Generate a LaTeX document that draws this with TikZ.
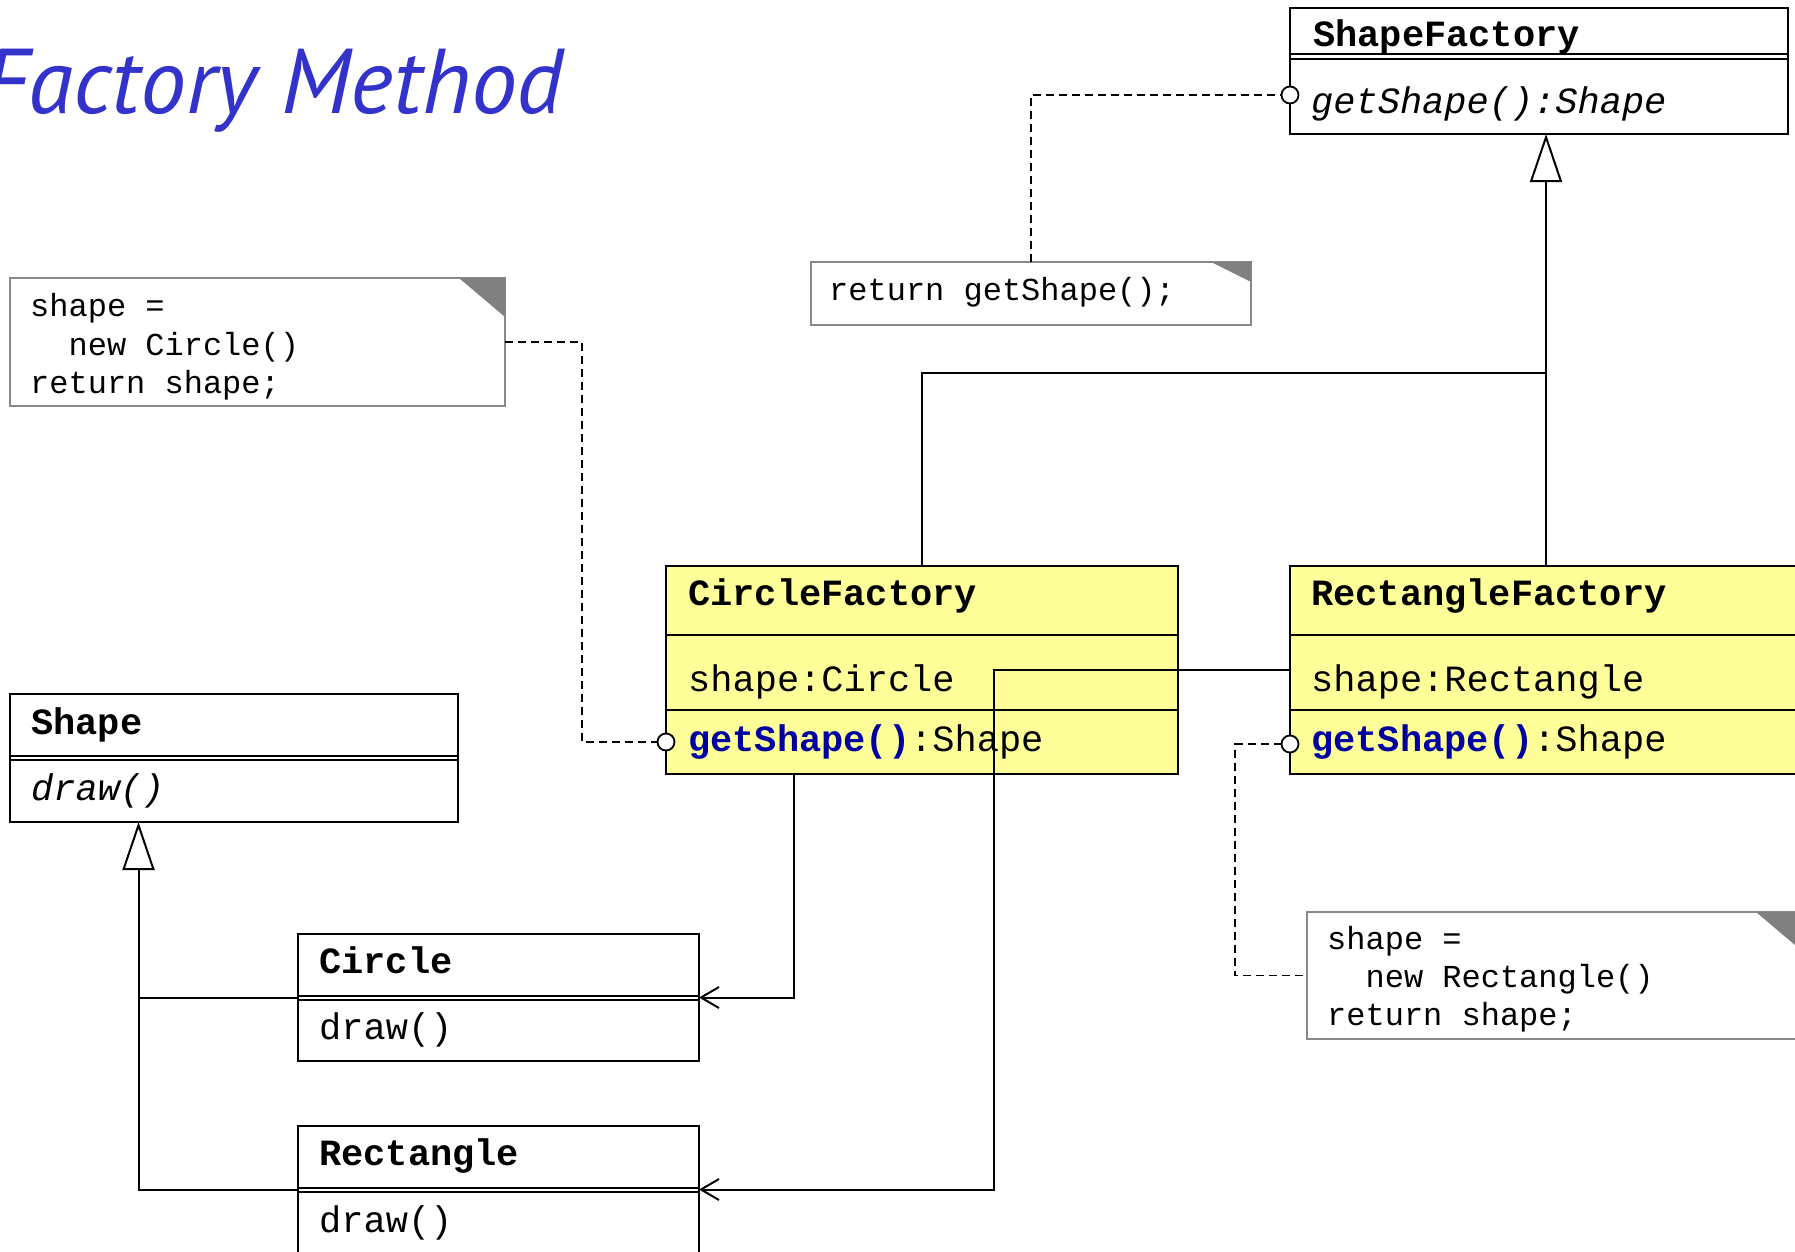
\documentclass[tikz,border=0pt]{standalone}
\usepackage{fontspec}
\setmonofont{Liberation Mono}
\newfontfamily\titlefont{PT Sans}
\usetikzlibrary{arrows.meta}
\definecolor{titleblue}{HTML}{3333CC}
\definecolor{methblue}{HTML}{0000A0}
\definecolor{classyellow}{HTML}{FFFF99}
\definecolor{notegrey}{HTML}{888888}
\definecolor{cornergrey}{HTML}{808080}
\begin{document}
\begin{tikzpicture}[x=1pt,y=-1pt,
  umlbox/.style={draw=black, line width=2pt, anchor=north west, inner sep=0pt, outer sep=0pt, fill=white},
  factbox/.style={umlbox, fill=classyellow},
  notebox/.style={draw=notegrey, line width=2pt, anchor=north west, inner sep=0pt, outer sep=0pt, fill=white},
  cname/.style={anchor=base west, inner sep=0pt, font=\ttfamily\bfseries\fontsize{37}{44}\selectfont},
  ctext/.style={anchor=base west, inner sep=0pt, font=\ttfamily\fontsize{37}{44}\selectfont},
  citext/.style={anchor=base west, inner sep=0pt, font=\ttfamily\itshape\fontsize{37}{44}\selectfont},
  ntext/.style={anchor=base west, inner sep=0pt, font=\ttfamily\fontsize{32}{38}\selectfont},
  sepline/.style={line width=2pt},
  lolli/.style={circle, draw=black, line width=1.8pt, fill=white, inner sep=0pt, outer sep=0pt, minimum size=17pt},
  dep/.style={line width=1.8pt, dash pattern=on 8pt off 5pt},
  assoc/.style={line width=2pt, -{Straight Barb[length=18pt,width=21pt]}},
  gen/.style={line width=2pt, -{Triangle[open, length=48pt, width=32pt]}},
  plain/.style={line width=2pt},
  titlestyle/.style={anchor=base east, inner sep=0pt, text=titleblue, font=\titlefont\itshape\fontsize{92}{100}\selectfont},
]
\useasboundingbox (0,0) rectangle (1795,1251);
\clip (0,0) rectangle (1795,1251);

% title
\node[titlestyle] (title) at (564,113) {Factory Method};

% notes
\node[notebox, minimum width=495pt, minimum height=128pt] (n1) at (10,278) {};
\fill[cornergrey] (n1.north east) -- ++(-46,0) -- ++(46,39) -- cycle;
\node[ntext] (n1a) at (30,316) {shape =};
\node[ntext] (n1b) at (30,355) {\phantom{xx}new Circle()};
\node[ntext] (n1c) at (30,393) {return shape;};

\node[notebox, minimum width=440pt, minimum height=63pt] (n2) at (811,262) {};
\fill[cornergrey] (n2.north east) -- ++(-40,0) -- ++(40,20) -- cycle;
\node[ntext] (n2a) at (829,300) {return getShape();};

\node[notebox, minimum width=495pt, minimum height=127pt] (n3) at (1307,912) {};
\fill[cornergrey] (n3.north east) -- ++(-46,0) -- ++(46,39) -- cycle;
\node[ntext] (n3a) at (1327,949) {shape =};
\node[ntext] (n3b) at (1327,987) {\phantom{xx}new Rectangle()};
\node[ntext] (n3c) at (1327,1025) {return shape;};

% ShapeFactory
\node[umlbox, minimum width=498pt, minimum height=126pt] (sf) at (1290,8) {};
\draw[sepline] (1290,54) -- (1788,54);
\draw[sepline] (1290,58.5) -- (1788,58.5);
\node[cname] (sfname) at (1313,46) {ShapeFactory};
\node[citext] (sfop) at (1311,113) {getShape():Shape};

% CircleFactory
\node[factbox, minimum width=512pt, minimum height=208pt] (cf) at (666,566) {};
\draw[sepline] (666,635) -- (1178,635);
\draw[sepline] (666,710) -- (1178,710);
\node[cname] (cfname) at (688,605) {CircleFactory};
\node[ctext] (cfattr) at (688,691) {shape:Circle};
\node[ctext] (cfop) at (688,751) {\textcolor{methblue}{\bfseries getShape()}:Shape};

% RectangleFactory
\node[factbox, minimum width=512pt, minimum height=208pt] (rf) at (1290,566) {};
\draw[sepline] (1290,635) -- (1802,635);
\draw[sepline] (1290,710) -- (1802,710);
\node[cname] (rfname) at (1311,605) {RectangleFactory};
\node[ctext] (rfattr) at (1311,691) {shape:Rectangle};
\node[ctext] (rfop) at (1311,751) {\textcolor{methblue}{\bfseries getShape()}:Shape};

% Shape
\node[umlbox, minimum width=448pt, minimum height=128pt] (sh) at (10,694) {};
\draw[sepline] (10,755.5) -- (458,755.5);
\draw[sepline] (10,760) -- (458,760);
\node[cname] (shname) at (31,734) {Shape};
\node[citext] (shop) at (31,800) {draw()};

% Circle
\node[umlbox, minimum width=401pt, minimum height=127pt] (ci) at (298,934) {};
\draw[sepline] (298,995.5) -- (699,995.5);
\draw[sepline] (298,1000) -- (699,1000);
\node[cname] (ciname) at (319,973) {Circle};
\node[ctext] (ciop) at (319,1039) {draw()};

% Rectangle
\node[umlbox, minimum width=401pt, minimum height=127pt] (re) at (298,1126) {};
\draw[sepline] (298,1187.5) -- (699,1187.5);
\draw[sepline] (298,1192) -- (699,1192);
\node[cname] (rename) at (319,1165) {Rectangle};
\node[ctext] (reop) at (319,1232) {draw()};

% connector points
\coordinate (sfIn) at (1546,134);
\coordinate (jn) at (1546,373);
\coordinate (shIn) at (138.5,822);
\coordinate (cfOut) at (794,774);
\coordinate (a2) at (994,670);
\coordinate (d1) at (582,742);
\coordinate (d3) at (1235,975.5);

% generalizations
\draw[gen] (cf.north) |- (jn) -- (sfIn);
\draw[plain] (rf.north) -- (jn);
\draw[gen] (re.west) -| (shIn);
\draw[plain] (ci.west) -- (ci.west -| shIn);

% associations
\draw[assoc] (cfOut) |- (ci.east);
\draw[assoc] (rf.west) -- (a2) |- (re.east);

% lollipops and note links
\node[lolli] (sfc) at (1290,95) {};
\node[lolli] (cfc) at (666,742) {};
\node[lolli] (rfc) at (1290,744) {};
\draw[dep] (n1.east) -| (d1) -- (cfc.west);
\draw[dep] (n2.north) |- (sfc.west);
\draw[dep] (rfc.west) -| (d3) -- (n3.west);
\end{tikzpicture}
\end{document}
